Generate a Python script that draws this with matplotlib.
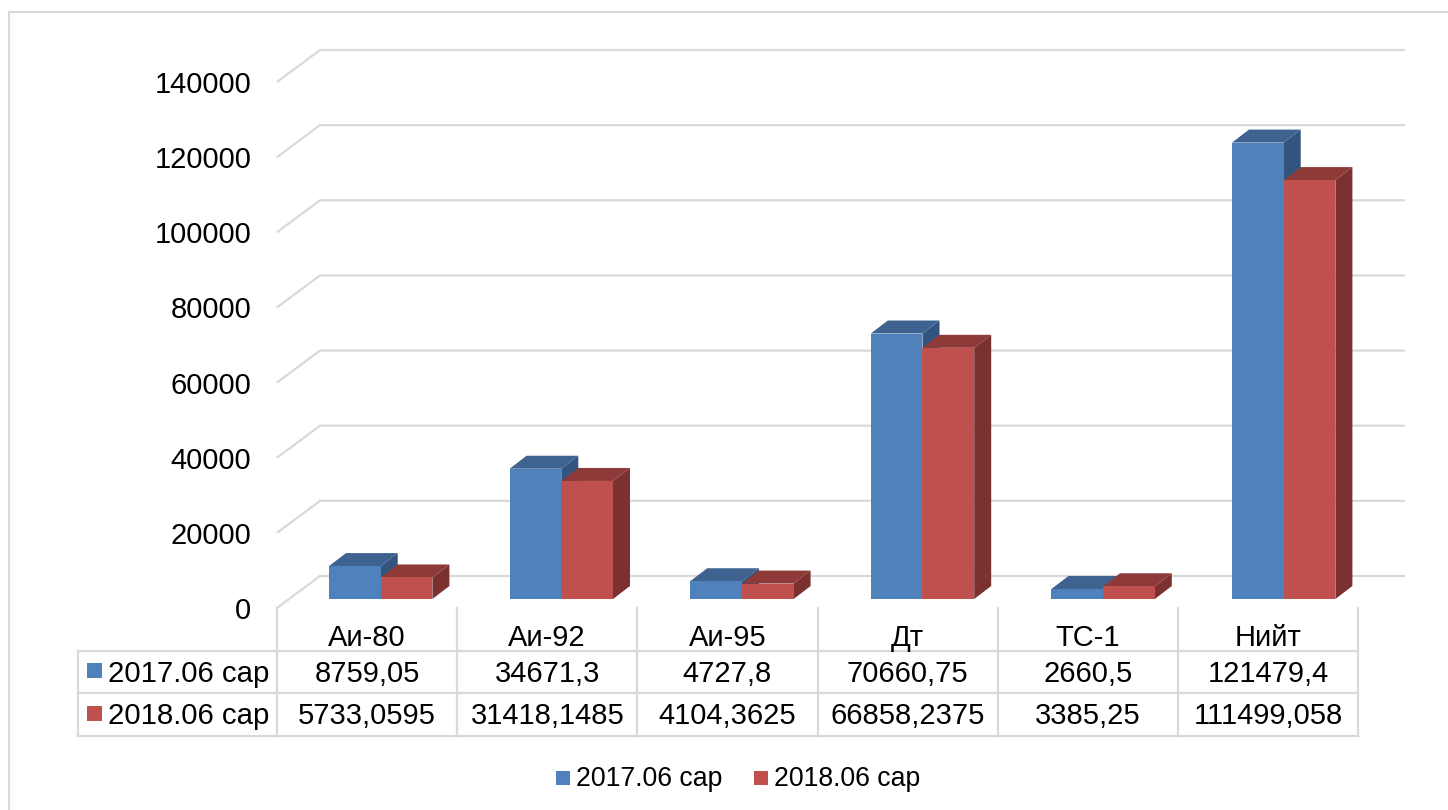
import matplotlib
matplotlib.use('Agg')
import matplotlib.pyplot as plt
from matplotlib.patches import Polygon, Rectangle

plt.rcParams['font.family'] = ['Liberation Sans', 'DejaVu Sans']

categories = ['Аи-80', 'Аи-92', 'Аи-95', 'Дт', 'ТС-1', 'Нийт']
series_names = ['2017.06 сар', '2018.06 сар']
values_2017 = [8759.05, 34671.3, 4727.8, 70660.75, 2660.5, 121479.4]
values_2018 = [5733.0595, 31418.1485, 4104.3625, 66858.2375, 3385.25, 111499.058]
y_ticks = [0, 20000, 40000, 60000, 80000, 100000, 120000, 140000]

W, H = 1448, 810
GRID = '#D9D9D9'
colors = [('#4F81BD', '#3E6391', '#325580'), ('#C0504D', '#8E3A38', '#7B3130')]

fig = plt.figure(figsize=(W / 100, H / 100), dpi=100)
ax = fig.add_axes([277 / W, (H - 608) / H, 1081 / W, 526 / H])
ax.set_xlim(0, 6)
ax.set_ylim(0, 140000)
for s in ax.spines.values():
    s.set_visible(False)
ax.patch.set_visible(False)
ax.set_xticks([])
ax.set_yticks(y_ticks)
ax.tick_params(axis='y', length=0, pad=18.5, labelsize=21, labelcolor='black')

# pixels to data units
px_x = 6 / 1081
px_y = 140000 / 526

# back wall grid
wall_dx, wall_dy = 43 * px_x, 32 * px_y
for t in y_ticks:
    ax.plot([0, wall_dx, 1128 * px_x], [t, t + wall_dy, t + wall_dy],
            color=GRID, lw=1.6, clip_on=False, zorder=1, solid_capstyle='butt')

# bars with fake depth
bar_w = 51.7 * px_x
bar_left = 52 * px_x
bar_step = 180.6 * px_x
base = 9 * px_y
dx, dy = 17 * px_x, 13 * px_y
for k, vals in enumerate([values_2017, values_2018]):
    front, top, side = colors[k]
    for i, v in enumerate(vals):
        x0 = i * bar_step + bar_left + k * bar_w
        x1 = x0 + bar_w
        y0, y1 = base, base + v
        ax.add_patch(Polygon([(x1, y0), (x1 + dx, y0 + dy), (x1 + dx, y1 + dy), (x1, y1)],
                             fc=side, ec='none', clip_on=False, zorder=3 + k))
        ax.add_patch(Polygon([(x0, y1), (x0 + dx, y1 + dy), (x1 + dx, y1 + dy), (x1, y1)],
                             fc=top, ec='none', clip_on=False, zorder=3 + k))
        ax.add_patch(Rectangle((x0, y0), bar_w, v, fc=front, ec='none',
                               clip_on=False, zorder=3 + k))

# overlay in pixels for the frame, data table and legend
ov = fig.add_axes([0, 0, 1, 1])
ov.set_xlim(0, W)
ov.set_ylim(H, 0)
ov.axis('off')
ov.patch.set_visible(False)

ov.plot([9, 9, W], [H, 12, 12], color=GRID, lw=1.5)

col_x = [277 + i * 1081 / 6 for i in range(7)]
row_y = [651, 693, 736]
for y in row_y:
    ov.plot([78, 1358], [y, y], color=GRID, lw=1.6, solid_capstyle='projecting')
ov.plot([78, 78], [651, 736], color=GRID, lw=1.6)
for x in col_x:
    ov.plot([x, x], [608, 736], color=GRID, lw=1.6)

for i, name in enumerate(categories):
    ov.text(col_x[i] + 1081 / 12, 638, name, ha='center', va='center', fontsize=21)

rows = [values_2017, values_2018]
for r, vals in enumerate(rows):
    yc = 674 + r * 42.5
    ov.add_patch(Rectangle((87, yc - 11), 15, 15, fc=colors[r][0], ec='none'))
    ov.text(108, yc, series_names[r], ha='left', va='center', fontsize=21.2)
    for i, v in enumerate(vals):
        ov.text(col_x[i] + 1081 / 12, yc, str(v).replace('.', ','),
                ha='center', va='center', fontsize=21)

for k, (mx, tx) in enumerate([(556, 576), (754, 774)]):
    ov.add_patch(Rectangle((mx, 771), 14, 14, fc=colors[k][0], ec='none'))
    ov.text(tx, 779, series_names[k], ha='left', va='center', fontsize=19.2)

fig.savefig('out.png', dpi=100, facecolor='white')
